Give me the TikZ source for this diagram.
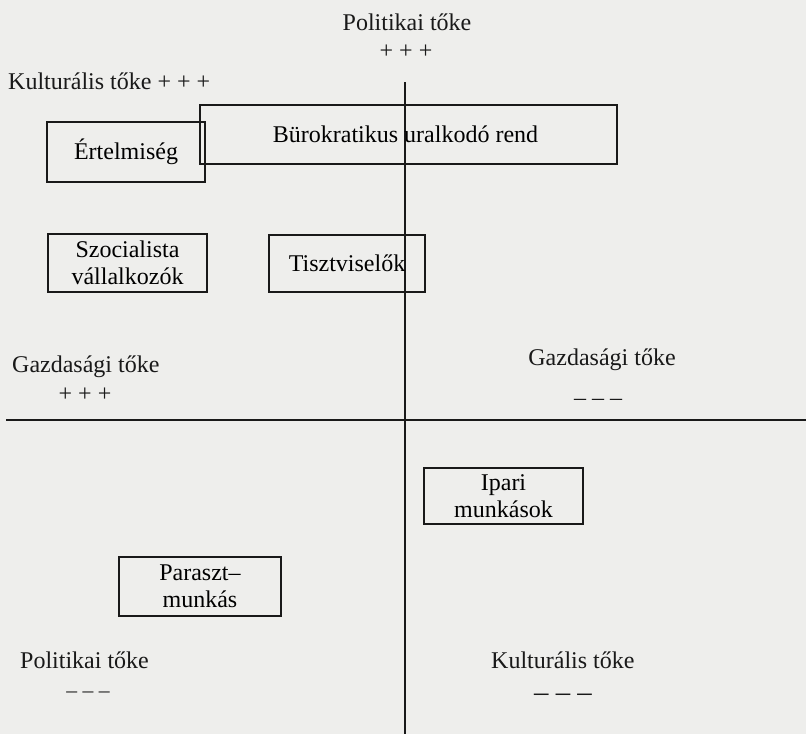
\documentclass[tikz,border=0pt]{standalone}
\usepackage{fontspec}
\setmainfont{Liberation Serif}
\definecolor{scangray}{RGB}{238, 238, 236}
\definecolor{inkblack}{RGB}{25, 25, 25}
\usepackage{tikz}
\usetikzlibrary{positioning, calc}

\tikzset{
  groupbox/.style={draw=inkblack, line width=2.2pt, align=center, inner sep=0pt},
  capital/.style={text=inkblack, inner sep=0pt},
  axisline/.style={draw=inkblack, line width=2.8pt}
}

\begin{document}
\begin{tikzpicture}[x=1pt, y=-1pt, font=\fontsize{24}{27}\selectfont]
  \fill[scangray] (0, 0) rectangle (806, 734);
  \useasboundingbox (0, 0) rectangle (806, 734);

  % axes
  \coordinate (axtop) at (405, 82);
  \coordinate (axbottom) at (405, 734);
  \coordinate (axleft) at (6, 420);
  \coordinate (axright) at (806, 420);
  \draw[axisline] (axtop) -- (axbottom);
  \draw[axisline] (axleft) -- (axright);

  % axis labels
  \node[capital] (poltop) at (407, 22) {Politikai tőke};
  \node[capital] (poltopplus) at (406, 52) {+ + +};
  \node[capital, anchor=west] (kultop) at (8, 81) {Kulturális tőke + + +};
  \node[capital, anchor=west] (gazdleft) at (12, 367) {Gazdasági tőke};
  \node[capital] (gazdleftplus) at (85, 395) {+ + +};
  \node[capital] (gazdright) at (602, 360) {Gazdasági tőke};
  \node[capital] (gazdrightminus) at (598, 402) {– – –};
  \node[capital, scale=0.9] (polbottomminus) at (88, 695) {– – –};
  \node[capital, anchor=west] (polbottom) at (20, 660) {Politikai tőke};
  \node[capital, anchor=west] (kulbottom) at (491, 660) {Kulturális tőke};
  \node[capital, scale=1.2, line width=1pt] (kulbottomminus) at (563, 698) {– – –};

  % social groups
  \node[groupbox, minimum width=158, minimum height=60] (ertelmiseg) at (126, 152) {Értelmiség};
  \node[groupbox, minimum width=417, minimum height=59] (burokratikus) at (408.5, 134.5) {\hspace*{-6pt}Bürokratikus uralkodó rend};
  \node[groupbox, minimum width=159, minimum height=58] (szocialista) at (127.5, 263) {Szocialista\\vállalkozók};
  \node[groupbox, minimum width=156, minimum height=57] (tisztviselok) at (347, 263.5) {Tisztviselők};
  \node[groupbox, minimum width=159, minimum height=56] (ipari) at (503.5, 496) {Ipari\\munkások};
  \node[groupbox, minimum width=162, minimum height=59] (paraszt) at (200, 586.5) {Paraszt–\\munkás};
\end{tikzpicture}
\end{document}
